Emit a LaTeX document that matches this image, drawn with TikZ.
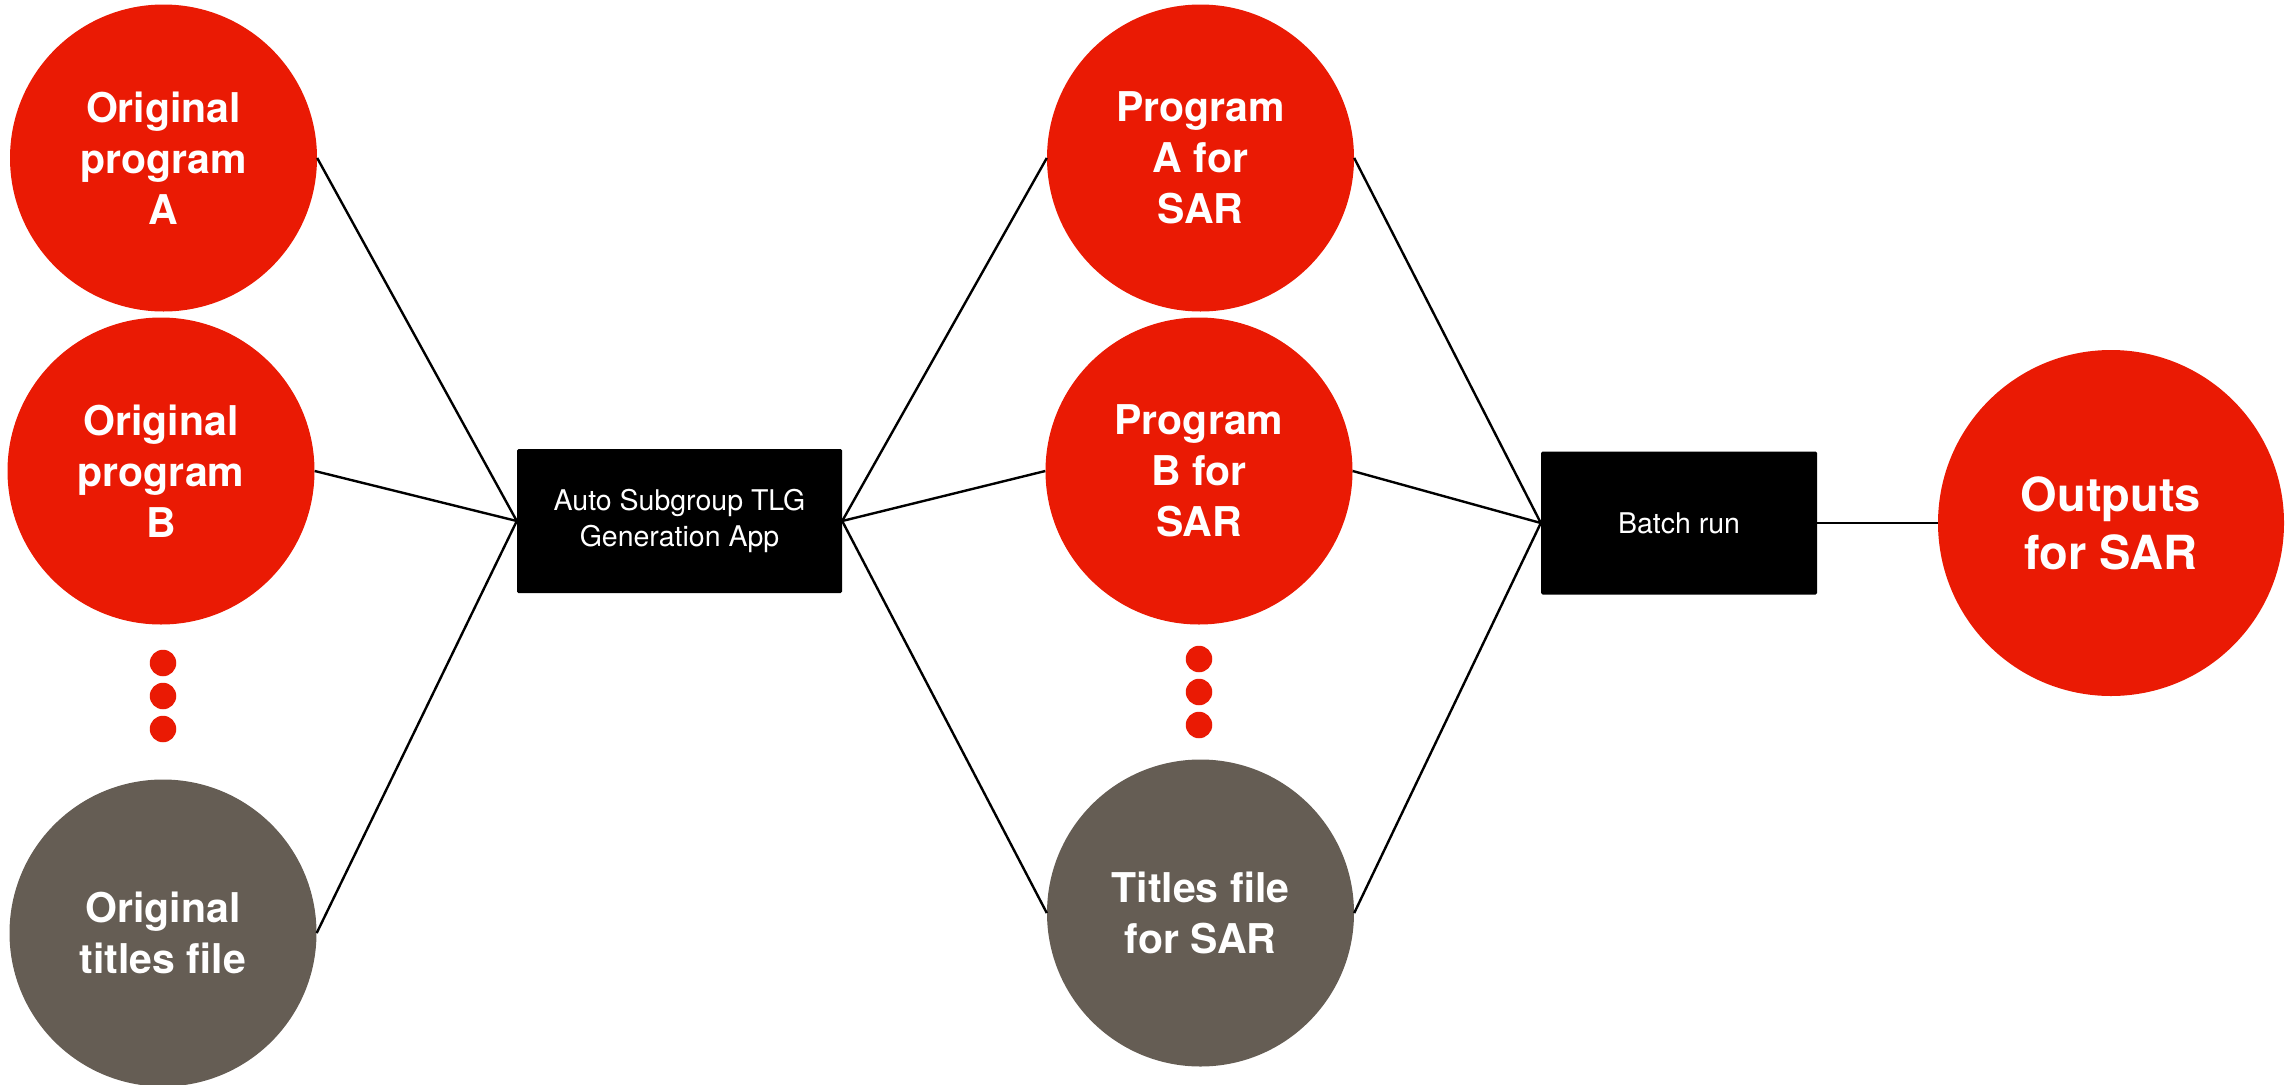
\documentclass[tikz,border=0pt]{standalone}
\usepackage{fontspec}
\setmainfont{TeX Gyre Heros}
\definecolor{sarred}{RGB}{234,26,4}
\definecolor{sargray}{RGB}{101,93,84}
\tikzset{
  bubble/.style={circle, fill=sarred, draw=none, inner sep=0pt, minimum size=307pt,
    text=white, align=center, font=\fontsize{41}{51}\selectfont\bfseries},
  graybubble/.style={bubble, fill=sargray},
  procbox/.style={rectangle, fill=black, draw=none, rounded corners=1.5pt, inner sep=0pt,
    text=white, align=center, font=\fontsize{28.5}{36}\selectfont},
  dotnode/.style={circle, fill=sarred, draw=none, inner sep=0pt, minimum size=26.5pt},
  link/.style={draw=black, line width=2.4pt}
}
\begin{document}
\begin{tikzpicture}[x=1pt,y=-1pt]
\useasboundingbox (0,0) rectangle (2285,1084);
% left column
\node[bubble] (oa) at (163.5,158) {Original\\program\\A};
\node[bubble] (ob) at (161,471) {Original\\program\\B};
\node[dotnode] (d1) at (163,663) {};
\node[dotnode] (d2) at (163,696) {};
\node[dotnode] (d3) at (163,729) {};
\node[graybubble] (ot) at (163,933) {Original\\titles file};
% app box
\node[procbox, minimum width=325pt, minimum height=144pt] (app) at (679.5,521) {Auto Subgroup TLG\\Generation App};
% middle column
\node[bubble] (pa) at (1200.5,158) {Program\\A for\\SAR};
\node[bubble] (pb) at (1199,471) {Program\\B for\\SAR};
\node[dotnode] (d4) at (1199,659) {};
\node[dotnode] (d5) at (1199,692) {};
\node[dotnode] (d6) at (1199,725) {};
\node[graybubble] (pt) at (1200.5,913) {Titles file\\for SAR};
% batch
\node[procbox, minimum width=276pt, minimum height=143pt] (batch) at (1679,523) {Batch run};
% output
\node[bubble, minimum size=346pt, font=\fontsize{47}{58}\selectfont\bfseries] (out) at (2111,523) {Outputs\\for SAR};
% connectors
\draw[link] (oa.east) -- (app.west);
\draw[link] (ob.east) -- (app.west);
\draw[link] (ot.east) -- (app.west);
\draw[link] (app.east) -- (pa.west);
\draw[link] (app.east) -- (pb.west);
\draw[link] (app.east) -- (pt.west);
\draw[link] (pa.east) -- (batch.west);
\draw[link] (pb.east) -- (batch.west);
\draw[link] (pt.east) -- (batch.west);
\draw[link] (batch.east) -- (out.west);
\end{tikzpicture}
\end{document}
